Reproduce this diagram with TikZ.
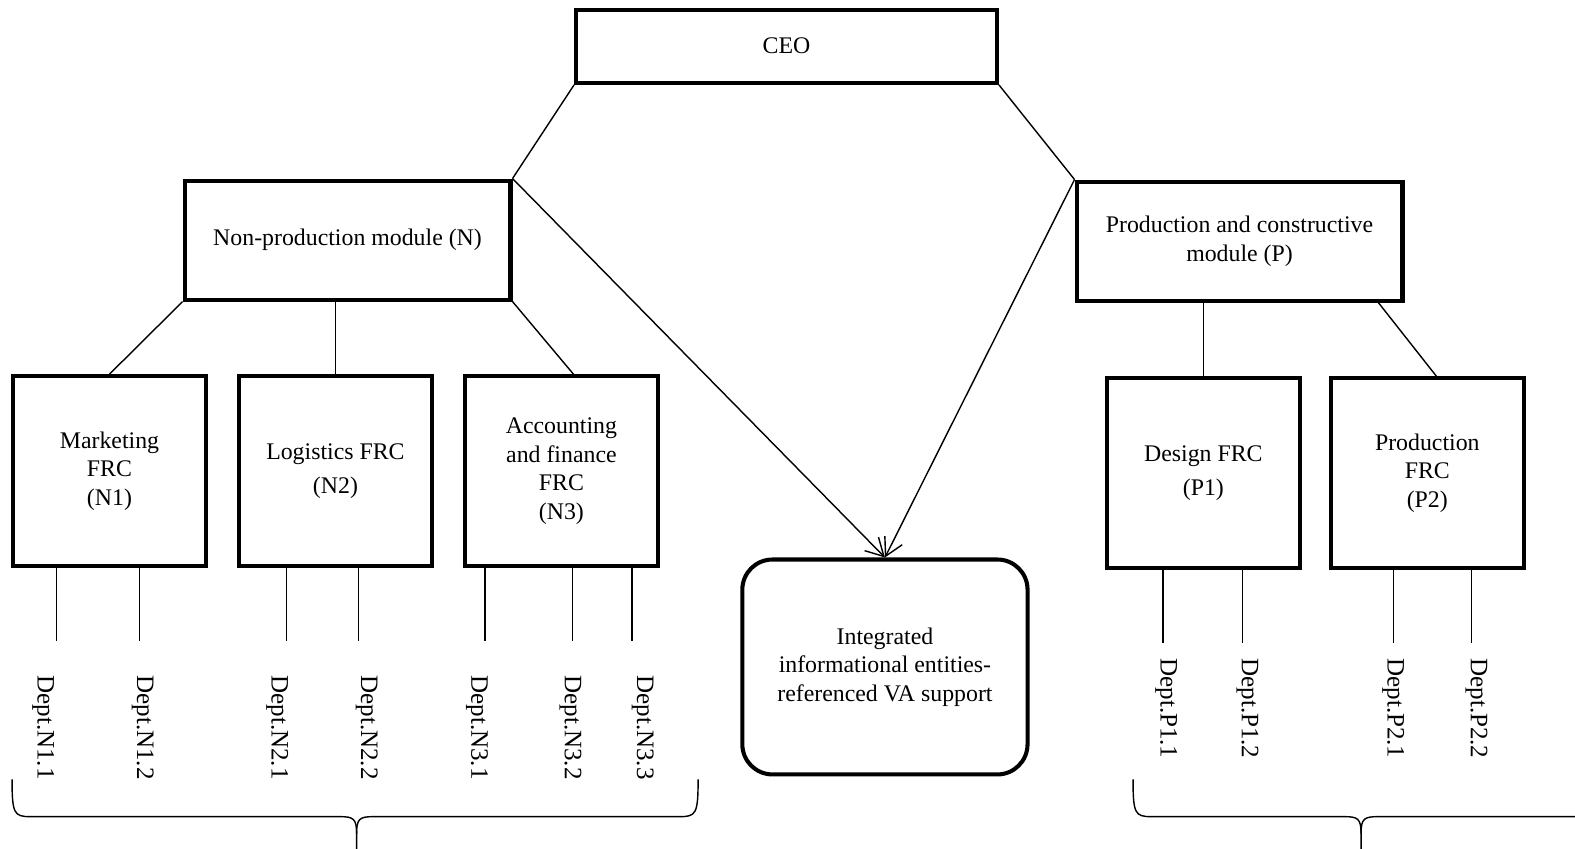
\documentclass[tikz,border=0pt]{standalone}
\usepackage{fontspec}
\setmainfont{Liberation Serif}
\usetikzlibrary{arrows.meta,positioning}
\tikzset{
    box/.style =    {rectangle,
                    fill=white,
                    draw=black,
                    text=black,
                    line width=2.3pt,
                    align=center,
                    inner sep=2pt},
    module/.style = {box,
                    minimum width=6.49cm,
                    minimum height=2.37cm},
    frc/.style =    {box,
                    minimum width=3.84cm,
                    minimum height=3.78cm},
    va/.style =     {box,
                    rounded corners=0.6cm,
                    minimum width=5.68cm,
                    minimum height=4.28cm},
    dept/.style =   {rotate=-90,
                    anchor=west,
                    inner sep=0pt,
                    font=\fontsize{14.2}{17}\selectfont},
    link/.style =   {line width=0.8pt},
    every node/.style = {font=\fontsize{13.5}{16.2}\selectfont},
    >={Straight Barb[length=10pt,width=11pt]},
    node distance=4.5cm}

\begin{document}
\begin{tikzpicture}[x=0.02cm,y=-0.02cm]
    \useasboundingbox (0,0) rectangle (1568,845);
                    \node[box, minimum width=8.38cm, minimum height=1.46cm] (CEO) at (783,46) {CEO};
                    \node[module]    (N) at (346,239)     {Non-production module (N)};
                    \node[module]    (P) at (1234,240)    {Production and constructive\\module (P)};
                    \node[frc]       (N1) at (109,469)    {Marketing\\FRC\\(N1)};
                    \node[frc]       (N2) [right of=N1]   {Logistics FRC\\[3pt](N2)};
                    \node[frc]       (N3) [right of=N2]   {Accounting\\and finance\\FRC\\(N3)};
                    \node[frc]       (P1) at (1198,471)   {Design FRC\\[3pt](P1)};
                    \node[frc]       (P2) [right of=P1, node distance=4.46cm] {Production\\FRC\\(P2)};
                    \node[va]        (VA) at (881,664)    {Integrated\\informational entities-\\referenced VA support};
                    \path [link]    (CEO.south west) edge (N.north east)
                                    (CEO.south east) edge (P.north west)
                                    (N.south west) edge (N1.north)
                                    (N.south -| N2.north) edge (N2.north)
                                    (N.south east) edge ([xshift=0.24cm]N3.north)
                                    (P.south -| P1.north) edge (P1.north)
                                    ([xshift=-0.52cm]P.south east) edge ([xshift=0.18cm]P2.north);
                    \path [link,->] (N.north east) edge (VA.north)
                                    (P.north west) edge (VA.north);
                    \coordinate (c11) at (56,638);
                    \coordinate (c12) at (139,638);
                    \coordinate (c21) at (285,638);
                    \coordinate (c22) at (357,638);
                    \coordinate (c31) at (483,638);
                    \coordinate (c32) at (570,638);
                    \coordinate (c33) at (629,638);
                    \coordinate (q11) at (1158,640);
                    \coordinate (q12) at (1237,640);
                    \coordinate (q21) at (1387,640);
                    \coordinate (q22) at (1465,640);
                    \path [link]    (N1.south -| c11) edge (c11)
                                    (N1.south -| c12) edge (c12)
                                    (N2.south -| c21) edge (c21)
                                    (N2.south -| c22) edge (c22)
                                    (N3.south -| c31) edge (c31)
                                    (N3.south -| c32) edge (c32)
                                    (N3.south -| c33) edge (c33)
                                    (P1.south -| q11) edge (q11)
                                    (P1.south -| q12) edge (q12)
                                    (P2.south -| q21) edge (q21)
                                    (P2.south -| q22) edge (q22);
                    \node[dept]      (d11) at (43,672)    {Dept.N1.1};
                    \node[dept]      (d12) at (142,672)   {Dept.N1.2};
                    \node[dept]      (d21) at (276,672)   {Dept.N2.1};
                    \node[dept]      (d22) at (365,672)   {Dept.N2.2};
                    \node[dept]      (d31) at (475,672)   {Dept.N3.1};
                    \node[dept]      (d32) at (568,672)   {Dept.N3.2};
                    \node[dept]      (d33) at (640,672)   {Dept.N3.3};
                    \node[dept]      (e11) at (1161,655)  {Dept.P1.1};
                    \node[dept]      (e12) at (1242,655)  {Dept.P1.2};
                    \node[dept]      (e21) at (1387,655)  {Dept.P2.1};
                    \node[dept]      (e22) at (1470,655)  {Dept.P2.2};
                    \draw [link] (12,776) .. controls (12,810) and (14,813) .. (30,813) -- (338,813)
                                 .. controls (352,813) and (355,815) .. (355,830) -- (355,860);
                    \draw [link] (695,776) .. controls (695,810) and (693,813) .. (677,813) -- (372,813)
                                 .. controls (358,813) and (355,815) .. (355,830);
                    \draw [link] (1128,776) .. controls (1128,810) and (1130,813) .. (1146,813) -- (1338,813)
                                 .. controls (1352,813) and (1355,815) .. (1355,830) -- (1355,860);
                    \draw [link] (1582,776) .. controls (1582,810) and (1580,813) .. (1564,813) -- (1372,813)
                                 .. controls (1358,813) and (1355,815) .. (1355,830);
\end{tikzpicture}
\end{document}
